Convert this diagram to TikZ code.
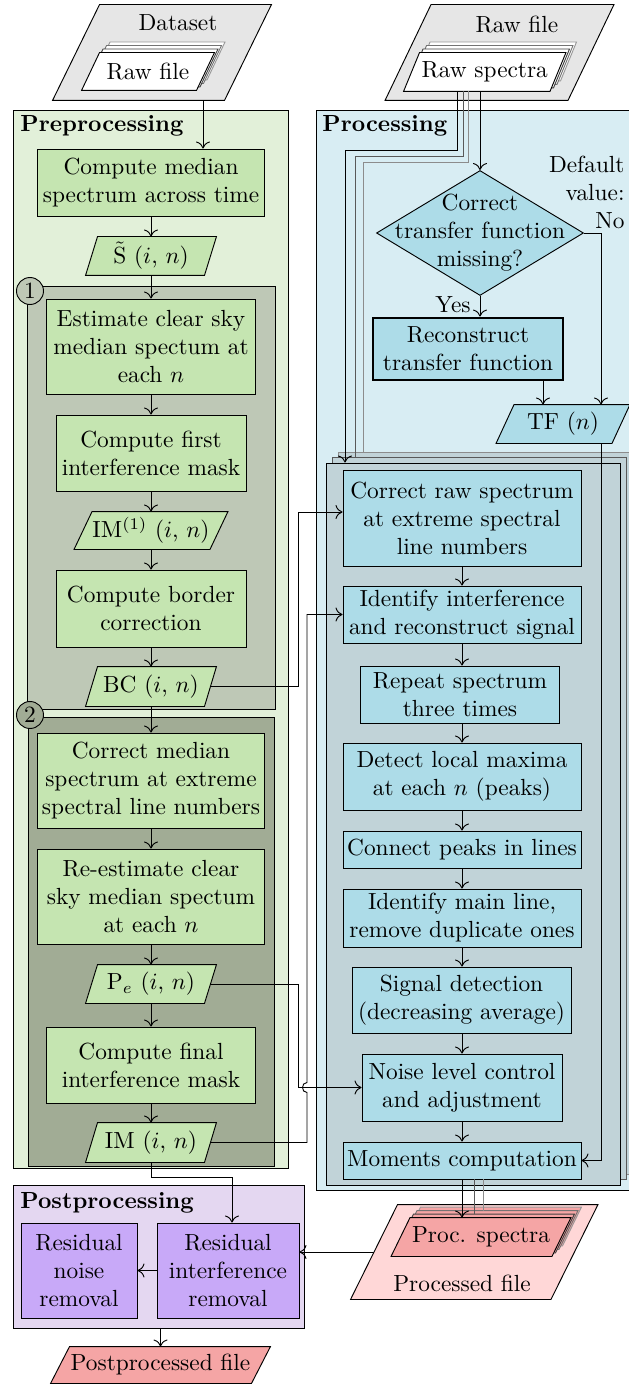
\documentclass[tikz,border=0pt]{standalone}
\usetikzlibrary{shapes.geometric,calc,arrows.meta}
\pgfdeclarelayer{cont}
\pgfdeclarelayer{shp}
\pgfsetlayers{cont,shp,main}
\newcommand\pxu{0.4286pt}
\definecolor{dsgray}{HTML}{E6E6E6}
\definecolor{preBG}{HTML}{E2F0D9}
\definecolor{grbox}{HTML}{C5E5B1}
\definecolor{boxone}{HTML}{BEC8B6}
\definecolor{boxtwo}{HTML}{A1AC95}
\definecolor{proBG}{HTML}{D8EDF3}
\definecolor{blbox}{HTML}{ADDCE8}
\definecolor{stk}{HTML}{C1D3D8}
\definecolor{postBG}{HTML}{E4D7F1}
\definecolor{pubox}{HTML}{C8A9F8}
\definecolor{pkfile}{HTML}{FFD7D7}
\definecolor{pkbox}{HTML}{F5A5A5}
% #1 node, #2 half slant (px), #3 fill, #4 draw colour, #5 offset up-right (px)
\newcommand\slantshape[5]{%
 \begin{pgfonlayer}{shp}
 \filldraw[fill=#3,draw=#4]
 ([xshift={(#2+#5)*\pxu},yshift={#5*\pxu}]#1.north west) --
 ([xshift={(#2+#5)*\pxu},yshift={#5*\pxu}]#1.north east) --
 ([xshift={(-#2+#5)*\pxu},yshift={#5*\pxu}]#1.south east) --
 ([xshift={(-#2+#5)*\pxu},yshift={#5*\pxu}]#1.south west) -- cycle;
 \end{pgfonlayer}}
\tikzset{
 sz/.style 2 args={minimum width=#1*\pxu, minimum height=#2*\pxu},
 box/.style={draw, rectangle, inner sep=0pt, align=center},
 gbox/.style={box, fill=grbox},
 bbox/.style={box, fill=blbox},
 pbox/.style={box, fill=pubox},
 sl/.style={rectangle, inner sep=0pt, align=center},
 contbox/.style={draw, rectangle, inner sep=0pt},
 lbl/.style={inner sep=0pt, anchor=west, font=\bfseries},
 numc/.style={circle, draw, minimum size=27*\pxu, inner sep=0pt},
}
\begin{document}
\begin{tikzpicture}[x=0.4286pt, y=-0.4286pt, line width=0.95pt, >={To[length=3pt,width=6pt]}]
\useasboundingbox (0,0) rectangle (629,1384);
% ---------- containers
\begin{pgfonlayer}{cont}
\node[contbox, fill=preBG, sz={275}{1058}] (pre) at (150.5,639) {};
\node[contbox, fill=proBG, sz={330}{1080}] (proc) at (481,650) {};
\node[contbox, fill=postBG, sz={291}{143}] (post) at (158.5,1256.5) {};
\node[contbox, fill=boxone, sz={248}{423}] (b1) at (151,497.5) {};
\node[contbox, fill=boxtwo, sz={246}{449}] (b2) at (151,941.5) {};
\node[contbox, fill=stk, draw=black!45, sz={294}{722}] (pc2) at (485,813) {};
\node[contbox, fill=stk, draw=black!65, sz={294}{722}] (pc1) at (479,818.5) {};
\node[contbox, fill=stk, sz={294}{722}] (pfr) at (473,824) {};
\end{pgfonlayer}
\node[lbl] (prelbl) at (20,126) {Preprocessing};
\node[lbl] (proclbl) at (322,126) {Processing};
\node[lbl] (postlbl) at (20,1203) {Postprocessing};
\node[numc, fill=boxone] (c1) at (30,291) {1};
\node[numc, fill=boxtwo] (c2) at (30,715) {2};
% ---------- top files
\node[sl, sz={171}{95}] (ds) at (162,52.5) {};
\node[inner sep=0pt] (dslbl) at (178,23) {Dataset};
\node[sl, sz={114}{37}] (rf) at (148,71.5) {Raw file};
\node[sl, sz={182}{95}] (rfg) at (499.5,52.5) {};
\node[inner sep=0pt] (rfglbl) at (517,25) {Raw file};
\node[sl, sz={145.5}{38}] (rs) at (484.75,72) {Raw spectra};
\slantshape{ds}{23.5}{dsgray}{black}{0}
\slantshape{rf}{9}{white}{black!40}{10.5}
\slantshape{rf}{9}{white}{black!55}{7}
\slantshape{rf}{9}{white}{black!75}{3.5}
\slantshape{rf}{9}{white}{black}{0}
\slantshape{rfg}{23}{dsgray}{black}{0}
\slantshape{rs}{8}{white}{black!40}{10.5}
\slantshape{rs}{8}{white}{black!55}{7}
\slantshape{rs}{8}{white}{black!75}{3.5}
\slantshape{rs}{8}{white}{black}{0}
% ---------- preprocessing
\node[gbox, sz={227}{67}] (cm) at (151,182.5) {Compute median\\spectrum across time};
\node[sl, sz={118}{38}] (st) at (151,256) {$\tilde{\mathrm{S}}$ $(i$, $n)$};
\node[gbox, sz={209}{95}] (es) at (151,346.5) {Estimate clear sky\\median spectum at\\each $n$};
\node[gbox, sz={190}{76}] (cf) at (151,453) {Compute first\\interference mask};
\node[sl, sz={135}{37}] (im1) at (151,530.5) {IM$^{(1)}$ $(i$, $n)$};
\node[gbox, sz={190}{77}] (cb) at (151,608.5) {Compute border\\correction};
\node[sl, sz={118}{39}] (bc) at (151,686.5) {BC $(i$, $n)$};
\node[gbox, sz={227}{95}] (cmed) at (151,780.5) {Correct median\\spectrum at extreme\\spectral line numbers};
\node[gbox, sz={227}{95}] (re) at (151,896.5) {Re-estimate clear\\sky median spectum\\at each $n$};
\node[sl, sz={118}{38}] (pe) at (151,984) {P$_{e}$ $(i$, $n)$};
\node[gbox, sz={209}{76}] (cfin) at (151,1065) {Compute final\\interference mask};
\node[sl, sz={118}{39}] (im) at (151,1142.5) {IM $(i$, $n)$};
\slantshape{st}{6}{grbox}{black}{0}
\slantshape{im1}{9}{grbox}{black}{0}
\slantshape{bc}{6}{grbox}{black}{0}
\slantshape{pe}{6}{grbox}{black}{0}
\slantshape{im}{6}{grbox}{black}{0}
% ---------- processing
\node[diamond, draw, fill=blbox, inner sep=0pt, sz={207}{125}] (dia) at (480,233) {};
\node[align=center, inner sep=0pt] (diat) at (480,233) {Correct\\transfer function\\missing?};
\node[anchor=east, align=right, inner sep=0pt] (dflt) at (625,192) {Default\\value:\\No};
\node[inner sep=0pt] (yes) at (453,305) {Yes};
\node[bbox, sz={190}{62}, line width=1.2pt] (rec) at (468,349) {Reconstruct\\transfer function};
\node[sl, sz={115}{38}] (tf) at (563,424) {TF ($n$)};
\slantshape{tf}{9}{blbox}{black}{0}
\node[bbox, sz={238}{96}] (crs) at (462,518) {Correct raw spectrum\\at extreme spectral\\line numbers};
\node[bbox, sz={238}{57}] (iis) at (462,614.5) {Identify interference\\and reconstruct signal};
\node[bbox, sz={199}{57}] (rst) at (460,694.5) {Repeat spectrum\\three times};
\node[bbox, sz={238}{67}] (dlm) at (462,776.5) {Detect local maxima\\at each $n$ (peaks)};
\node[bbox, sz={238}{37}] (cpl) at (462,849.5) {Connect peaks in lines};
\node[bbox, sz={238}{58}] (iml) at (462,918) {Identify main line,\\remove duplicate ones};
\node[bbox, sz={219}{66}] (sdt) at (461.5,1000) {Signal detection\\(decreasing average)};
\node[bbox, sz={200}{67}] (nlc) at (462,1087.5) {Noise level control\\and adjustment};
\node[bbox, sz={238}{37}] (mom) at (462,1160.5) {Moments computation};
% ---------- processed file
\node[sl, sz={199.5}{94}] (pf) at (474.25,1252) {};
\node[inner sep=0pt] (pflbl) at (462,1283) {Processed file};
\node[sl, sz={160}{38}] (ps) at (481,1237) {Proc. spectra};
\slantshape{pf}{23.5}{pkfile}{black}{0}
\slantshape{ps}{9.5}{pkbox}{black!40}{10.5}
\slantshape{ps}{9.5}{pkbox}{black!55}{7}
\slantshape{ps}{9.5}{pkbox}{black!75}{3.5}
\slantshape{ps}{9.5}{pkbox}{black}{0}
% ---------- postprocessing
\node[pbox, sz={116}{95}] (rnr) at (79,1270.5) {Residual\\noise\\removal};
\node[pbox, sz={142}{95}] (ric) at (228,1270.5) {Residual\\interference\\removal};
\node[sl, sz={200}{36}] (ppf) at (160.5,1365) {Postprocessed file};
\slantshape{ppf}{9.5}{pkbox}{black}{0}
% ---------- connectors: preprocessing chain
\coordinate (dsx) at (203,0);
\draw[->] (dsx |- ds.south) -- (dsx |- cm.north);
\draw[->] (cm.south) -- (st.north);
\draw[->] (st.south) -- (es.north);
\draw[->] (es.south) -- (cf.north);
\draw[->] (cf.south) -- (im1.north);
\draw[->] (im1.south) -- (cb.north);
\draw[->] (cb.south) -- (bc.north);
\draw[->] (bc.south) -- (cmed.north);
\draw[->] (cmed.south) -- (re.north);
\draw[->] (re.south) -- (pe.north);
\draw[->] (pe.south) -- (cfin.north);
\draw[->] (cfin.south) -- (im.north);
% ---------- connectors: processing
\coordinate (t1) at (345,150);
\coordinate (t2) at (355,156);
\coordinate (t3) at (363,162);
\draw[black!45] ($(rs.south)+(-16.75,0)$) |- (t3) -- (t3 |- pc2.north);
\draw[black!65] ($(rs.south)+(-21.75,0)$) |- (t2) -- (t2 |- pc1.north);
\draw[->] ($(rs.south)+(-27.75,0)$) |- (t1) -- (t1 |- pfr.north);
\draw[->] (rs.south -| dia.north) -- (dia.north);
\coordinate (nocol) at (601,0);
\draw[->] (dia.east) -| (nocol |- tf.north);
\draw[->] (dia.south) -- (dia.south |- rec.north);
\coordinate (rx) at ($(rec.south)+(75,0)$);
\draw[->] (rx) -- (rx |- tf.north);
\draw[->] (nocol |- tf.south) |- (mom.east);
\draw[->] (crs.south) -- (crs.south |- iis.north);
\draw[->] (iis.south) -- (iis.south |- rst.north);
\draw[->] (iis.south |- rst.south) -- (iis.south |- dlm.north);
\draw[->] (dlm.south) -- (cpl.north);
\draw[->] (cpl.south) -- (iml.north);
\draw[->] (iml.south) -- (iml.south |- sdt.north);
\draw[->] (iml.south |- sdt.south) -- (nlc.north);
\draw[->] (nlc.south) -- (mom.north);
% ---------- cross connectors
\coordinate (bx) at (298,0);
\coordinate (hx) at (307,0);
\coordinate (bcy) at ($(crs.west)+(0,-6)$);
\draw[->] (bc.east) -| (bx |- bcy) -- (bcy);
\draw[->] (pe.east) -| (bx |- nlc.west) -- (nlc.west);
\coordinate (hop) at (hx |- nlc.west);
\draw[->] (im.east) -| ($(hop)+(0,5)$) .. controls ($(hop)+(-6,5)$) and ($(hop)+(-6,-5)$) .. ($(hop)+(0,-5)$) -- (hx |- iis.west) -- (iis.west);
% ---------- to processed file
\coordinate (psn1) at ($(ps.north)+(3.5,-3.5)$);
\coordinate (psn2) at ($(ps.north)+(7,-7)$);
\coordinate (m2) at ($(mom.south)+(12,0)$);
\coordinate (m3) at ($(mom.south)+(21,0)$);
\draw[black!45] (m3) -- (m3 |- psn2);
\draw[black!65] (m2) -- (m2 |- psn1);
\draw[->] (mom.south) -- (mom.south |- ps.north);
% ---------- postprocessing
\draw[->] (pf.west) -- (pf.west -| ric.east);
\draw[->] (ric.west) -- (rnr.east);
\coordinate (k1) at (232,1177);
\draw[->] (im.south) |- (k1) -- (k1 |- ric.north);
\draw[->] (ppf.north |- post.south) -- (ppf.north);
\end{tikzpicture}
\end{document}
